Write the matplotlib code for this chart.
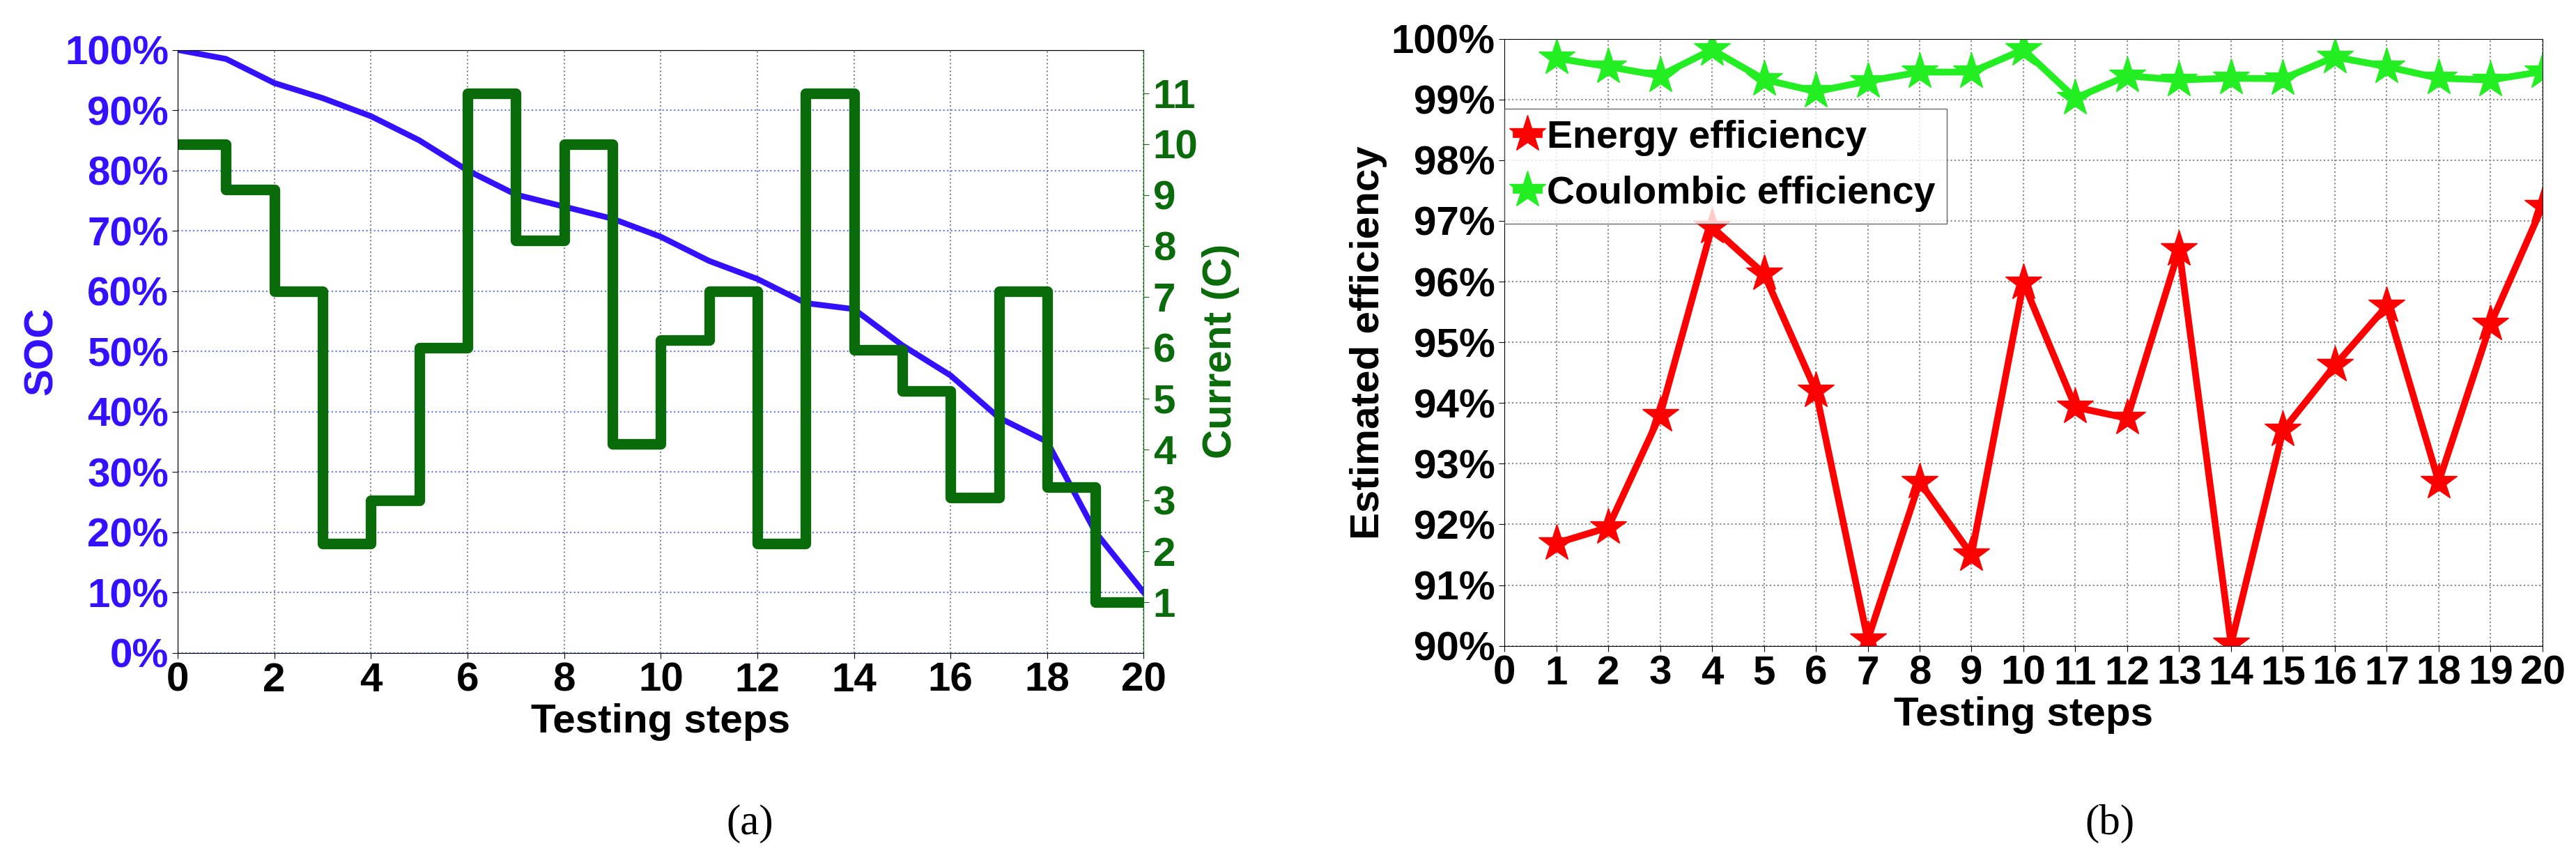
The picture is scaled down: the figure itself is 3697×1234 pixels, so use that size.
import matplotlib
matplotlib.use("Agg")
import matplotlib.pyplot as plt
import numpy as np

plt.rcParams['font.family'] = ['Liberation Sans', 'DejaVu Sans']
plt.rcParams['font.weight'] = 'bold'

steps = list(range(21))
soc = [100, 98.5, 94.5, 92, 89, 85, 80, 76, 74, 72, 69, 65, 62, 58, 57, 51, 46, 39, 35, 20, 10]
current = [10.0, 9.1, 7.1, 2.15, 3.0, 6.0, 11.0, 8.1, 10.0, 4.1, 6.15, 7.1, 2.15, 11.0, 5.95, 5.15, 3.05, 7.1, 3.25, 1.0]

eff_steps = list(range(1, 21))
energy = [91.69, 91.95, 93.8, 96.9, 96.13, 94.2, 90.1, 92.7, 91.5, 95.98, 93.93, 93.75,
          96.53, 90.03, 93.55, 94.62, 95.6, 92.7, 95.3, 97.24]
coulomb = [99.68, 99.54, 99.39, 99.82, 99.33, 99.13, 99.3, 99.45, 99.45, 99.82, 99.02, 99.39,
           99.32, 99.35, 99.34, 99.7, 99.54, 99.35, 99.32, 99.46]

fig = plt.figure(figsize=(36.97, 12.34), dpi=100)
fs = 42

# (a)
ax1 = fig.add_axes([0.069, 0.241, 0.375, 0.701])
ax1.plot(steps, soc, color='#3311ff', lw=6)
ax1.set_xlim(0, 20)
ax1.set_ylim(0, 100)
ax1.set_xticks(range(0, 21, 2))
ax1.set_yticks(range(0, 101, 10))
ax1.set_yticklabels([f"{v}%" for v in range(0, 101, 10)], color='#3311ff')
ax1.tick_params(labelsize=fs, length=6)
ax1.set_ylabel('SOC', color='#3311ff', fontsize=fs, fontweight='bold')
ax1.set_xlabel('Testing steps', fontsize=fs, fontweight='bold')
ax1.yaxis.grid(True, color='#6677ff', ls=':', lw=1.5)
ax1.xaxis.grid(True, color='#888888', ls=':', lw=1.5)

ax2 = ax1.twinx()
ax2.step(steps, current + [current[-1]], where='post', color='#0a6b0a', lw=11)
ax2.set_ylim(0, 11.85)
ax2.set_yticks(range(1, 12))
ax2.tick_params(labelsize=fs, colors='#0a6b0a', length=6)
ax2.set_ylabel('Current (C)', color='#0a6b0a', fontsize=fs, fontweight='bold')
ax2.spines['right'].set_color('#0a6b0a')
fig.text(0.291, 0.03, '(a)', fontsize=44, fontweight='normal', family='Liberation Serif', ha='center')

# (b)
ax3 = fig.add_axes([0.584, 0.249, 0.403, 0.706])
ax3.plot(eff_steps, energy, color='red', lw=7, marker='*', ms=40, label='Energy efficiency')
ax3.plot(eff_steps, coulomb, color='#22ee22', lw=7, marker='*', ms=40, label='Coulombic efficiency')
ax3.set_xlim(0, 20)
ax3.set_ylim(90, 100)
ax3.set_xticks(range(0, 21))
ax3.set_yticks(range(90, 101))
ax3.set_yticklabels([f"{v}%" for v in range(90, 101)])
ax3.tick_params(labelsize=fs, length=6)
ax3.set_ylabel('Estimated efficiency', fontsize=fs, fontweight='bold')
ax3.set_xlabel('Testing steps', fontsize=fs, fontweight='bold')
ax3.grid(True, color='#888888', ls=':', lw=1.5)
ax3.legend(loc='upper left', bbox_to_anchor=(0.0, 0.885), fontsize=40, frameon=True,
           fancybox=False, edgecolor='#444444', handlelength=0.6, handletextpad=0.2,
           borderaxespad=0, borderpad=0.3)
fig.text(0.819, 0.03, '(b)', fontsize=44, fontweight='normal', family='Liberation Serif', ha='center')

fig.savefig('out.png', dpi=100)
